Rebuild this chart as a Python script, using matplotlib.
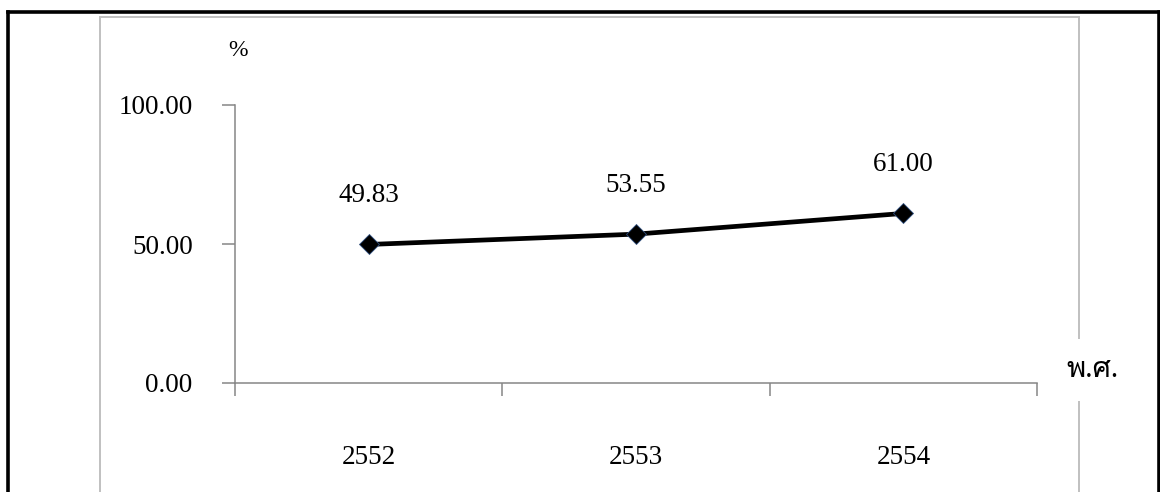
import matplotlib
matplotlib.use('Agg')
import matplotlib.pyplot as plt
from matplotlib import font_manager
from matplotlib.ft2font import FT2Font
from matplotlib.lines import Line2D

years = ['2552', '2553', '2554']
values = [49.83, 53.55, 61.00]
yticks = [0, 50, 100]
y_unit = '%'
x_unit = 'พ.ศ.'

# find some installed font that has thai glyphs
thai_font = 'DejaVu Sans'
for f in font_manager.fontManager.ttflist:
    try:
        if 0x0E1E in FT2Font(f.fname).get_charmap():
            thai_font = f.name
            break
    except Exception:
        pass

plt.rcParams['font.family'] = ['Liberation Serif', thai_font, 'DejaVu Sans']
W, H = 1160, 492
fig = plt.figure(figsize=(W / 100, H / 100), dpi=100)

# outer black frame (bottom cut off) and grey chart-area frame
def fline(x0, y0, x1, y1, **kw):
    fig.add_artist(Line2D([x0 / W, x1 / W], [1 - y0 / H, 1 - y1 / H], **kw))

fline(8, 12, 1159, 12, color='black', lw=2.6)
fline(8, 12, 8, 492, color='black', lw=2.6)
fline(1159, 12, 1159, 492, color='black', lw=2.6)
fline(100, 17, 1079, 17, color='#c0c0c0', lw=1.4)
fline(100, 17, 100, 492, color='#c0c0c0', lw=1.4)
fline(1079, 17, 1079, 492, color='#c0c0c0', lw=1.4)

ax = fig.add_axes([235 / W, 1 - 383 / H, (1037 - 235) / W, (383 - 105) / H])
x = list(range(1, len(years) + 1))
ax.plot(x, values, color='black', lw=3.4, marker='D', markersize=10.5,
        markerfacecolor='black', markeredgecolor='#2f4f7f', markeredgewidth=0.6,
        clip_on=False)
for xi, v in zip(x, values):
    ax.annotate(f'{v:.2f}', (xi, v), xytext=(0, 35), textcoords='offset points',
                ha='center', va='center', fontsize=19.5)

ax.set_xlim(0.5, len(years) + 0.5)
ax.set_ylim(0, 100)
ax.set_xticks([i + 0.5 for i in range(len(years) + 1)])
ax.set_xticklabels([])
ax.set_xticks(x, minor=True)
ax.set_xticklabels(years, minor=True, fontsize=19.5)
ax.tick_params(axis='x', which='minor', length=0, pad=45)
ax.tick_params(axis='x', which='major', length=9.5, width=1.1, color='#868686', direction='out')
ax.set_yticks(yticks)
ax.set_yticklabels([f'{t:.2f}' for t in yticks], fontsize=19.5)
ax.tick_params(axis='y', length=9.5, width=1.1, color='#868686', direction='out', pad=21)
for s in ['top', 'right']:
    ax.spines[s].set_visible(False)
for s in ['left', 'bottom']:
    ax.spines[s].set_color('#868686')
    ax.spines[s].set_linewidth(1.1)
ax.patch.set_alpha(0)

fig.text(238 / W, 1 - 50 / H, y_unit, ha='center', va='center', fontsize=17)
fig.text(1092 / W, 1 - 370 / H, x_unit, ha='center', va='center', fontsize=21,
         bbox=dict(facecolor='white', edgecolor='none', pad=13))

fig.savefig('out.png', dpi=100)
